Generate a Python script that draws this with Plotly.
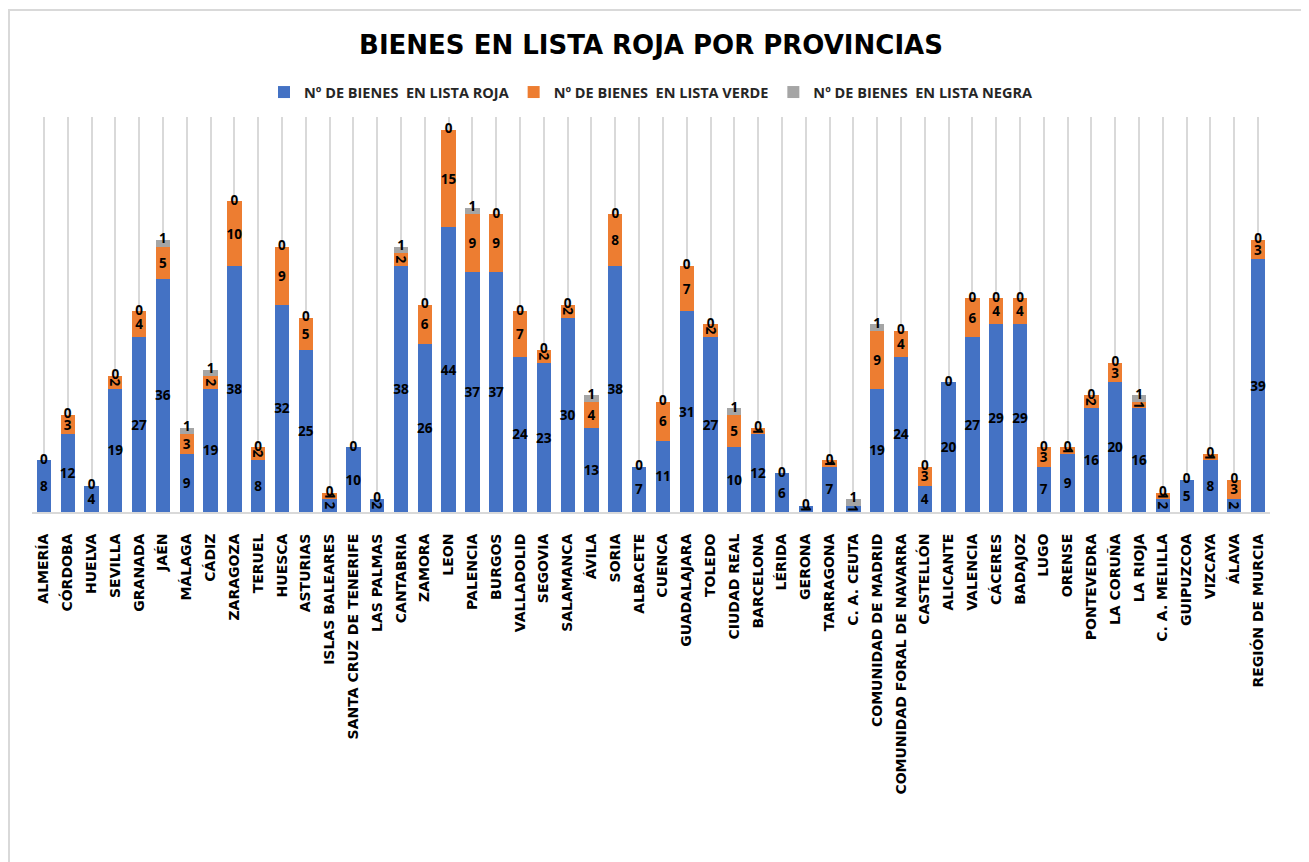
import plotly.graph_objects as go

provincias = ["ALMERÍA", "CÓRDOBA", "HUELVA", "SEVILLA", "GRANADA", "JAÉN", "MÁLAGA", "CÁDIZ",
              "ZARAGOZA", "TERUEL", "HUESCA", "ASTURIAS", "ISLAS BALEARES",
              "SANTA CRUZ DE TENERIFE", "LAS PALMAS", "CANTABRIA", "ZAMORA", "LEON", "PALENCIA",
              "BURGOS", "VALLADOLID", "SEGOVIA", "SALAMANCA", "ÁVILA", "SORIA", "ALBACETE",
              "CUENCA", "GUADALAJARA", "TOLEDO", "CIUDAD REAL", "BARCELONA", "LÉRIDA", "GERONA",
              "TARRAGONA", "C. A. CEUTA", "COMUNIDAD DE MADRID", "COMUNIDAD FORAL DE NAVARRA",
              "CASTELLÓN", "ALICANTE", "VALENCIA", "CÁCERES", "BADAJOZ", "LUGO", "ORENSE",
              "PONTEVEDRA", "LA CORUÑA", "LA RIOJA", "C. A. MELILLA", "GUIPUZCOA", "VIZCAYA",
              "ÁLAVA", "REGIÓN DE MURCIA"]

lista_roja = [8, 12, 4, 19, 27, 36, 9, 19, 38, 8, 32, 25, 2, 10, 2, 38, 26, 44, 37, 37, 24, 23,
              30, 13, 38, 7, 11, 31, 27, 10, 12, 6, 1, 7, 1, 19, 24, 4, 20, 27, 29, 29, 7, 9, 16,
              20, 16, 2, 5, 8, 2, 39]
lista_verde = [0, 3, 0, 2, 4, 5, 3, 2, 10, 2, 9, 5, 1, 0, 0, 2, 6, 15, 9, 9, 7, 2, 2, 4, 8, 0,
               6, 7, 2, 5, 1, 0, 0, 1, 0, 9, 4, 3, 0, 6, 4, 4, 3, 1, 2, 3, 1, 1, 0, 1, 3, 3]
lista_negra = [0, 0, 0, 0, 0, 1, 1, 1, 0, 0, 0, 0, 0, 0, 0, 1, 0, 0, 1, 0, 0, 0, 0, 1, 0, 0,
               0, 0, 0, 1, 0, 0, 0, 0, 1, 1, 0, 0, 0, 0, 0, 0, 0, 0, 0, 0, 1, 0, 0, 0, 0, 0]

LABEL_FONT = dict(family="Open Sans", size=13.5, color="black", weight="bold")

fig = go.Figure()
fig.add_trace(go.Bar(
    x=provincias, y=lista_roja, name="Nº DE BIENES  EN LISTA ROJA",
    marker=dict(color="#4472C4", line=dict(width=0)),
    text=[str(v) for v in lista_roja], textposition="inside", insidetextanchor="middle",
    textfont=LABEL_FONT,
))
fig.add_trace(go.Bar(
    x=provincias, y=lista_verde, name="Nº DE BIENES  EN LISTA VERDE",
    marker=dict(color="#ED7D31", line=dict(width=0)),
    text=[str(v) for v in lista_verde], textposition="inside", insidetextanchor="middle",
    textfont=LABEL_FONT,
))
fig.add_trace(go.Bar(
    x=provincias, y=lista_negra, name="Nº DE BIENES  EN LISTA NEGRA",
    marker=dict(color="#A5A5A5", line=dict(width=0)),
    textposition="none",
))
# labels of the top series (also shows zero values) at the top of each stack
totales = [r + v + n for r, v, n in zip(lista_roja, lista_verde, lista_negra)]
fig.add_trace(go.Scatter(
    x=provincias, y=totales, mode="text", text=[str(v) for v in lista_negra],
    textposition="middle center", textfont=LABEL_FONT, showlegend=False,
    hoverinfo="skip", cliponaxis=False,
))

fig.update_layout(
    barmode="stack",
    bargap=0.4,
    width=1309, height=862,
    paper_bgcolor="white", plot_bgcolor="white",
    margin=dict(l=24, r=47, t=109, b=358),
    uniformtext=dict(minsize=13.5, mode="show"),
    title=dict(text="<b>BIENES EN LISTA ROJA POR PROVINCIAS</b>", x=0.5, xref="paper",
               xanchor="center", y=0.957, yanchor="middle",
               font=dict(family="DejaVu Sans", size=26, color="black")),
    legend=dict(orientation="h", x=0.5, xanchor="center", y=1.063, yanchor="middle",
                font=dict(family="Open Sans", size=14.5, color="#262626", weight="bold"),
                traceorder="normal"),
    xaxis=dict(type="category", range=[-0.5, len(provincias) - 0.5], autorange=False,
               tickangle=-90, showgrid=True, gridcolor="#D9D9D9", gridwidth=2,
               showline=True, linecolor="#D9D9D9", linewidth=2,
               ticks="outside", ticklen=14, tickcolor="white",
               tickfont=dict(family="DejaVu Sans", size=14, color="black", weight="bold")),
    yaxis=dict(range=[0, 61], showgrid=False, showticklabels=False, zeroline=False,
               showline=False),
    shapes=[dict(type="rect", xref="paper", yref="paper", x0=-0.0186, x1=1.0283,
                 y0=-0.95, y1=1.271, layer="below",
                 line=dict(color="#D9D9D9", width=2), fillcolor="rgba(0,0,0,0)")],
)

fig.write_html("out.html")
